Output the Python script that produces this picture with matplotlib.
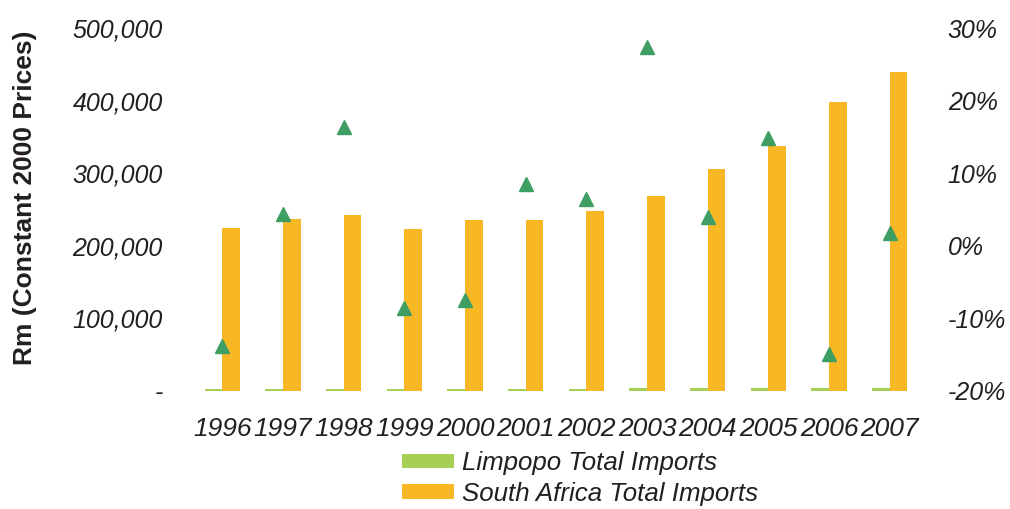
import matplotlib
matplotlib.use("Agg")
import matplotlib.pyplot as plt
from matplotlib.patches import Patch
from matplotlib.ticker import FuncFormatter, FixedLocator
import numpy as np

# Annual imports, Rm at constant 2000 prices
years = ["1996", "1997", "1998", "1999", "2000", "2001",
         "2002", "2003", "2004", "2005", "2006", "2007"]
limpopo_imports = [2700, 2800, 3250, 2960, 2730, 2960,
                   3150, 4020, 4170, 4790, 4080, 4150]
sa_imports = [224000, 237000, 243000, 223000, 235000, 235500,
              248000, 268500, 306000, 337500, 397500, 440000]
# Year-on-year growth of Limpopo imports (%)
limpopo_growth = [-13.8, 4.4, 16.4, -8.5, -7.5, 8.5,
                  6.4, 27.4, 4.0, 14.8, -14.9, 1.8]

left_ticks = [0, 100000, 200000, 300000, 400000, 500000]
right_ticks = [-20, -10, 0, 10, 20, 30]

TEXT = "#231f20"
ORANGE = "#f8b826"
LIME = "#a6cf55"
TRI = "#3f9e63"

plt.rcParams["font.family"] = ["Liberation Sans", "DejaVu Sans"]

fig = plt.figure(figsize=(10.10, 5.09), dpi=100)
ax = fig.add_axes([192 / 1010, 1 - 391 / 509, (920 - 192) / 1010, (391 - 28) / 509])
ax2 = ax.twinx()

x = np.arange(len(years))
w = 0.29
ax.bar(x - w / 2, limpopo_imports, width=w, color=LIME, zorder=2)
ax.bar(x + w / 2, sa_imports, width=w, color=ORANGE, zorder=2)
ax2.plot(x, limpopo_growth, linestyle="none", marker="^", markersize=10,
         color=TRI, zorder=3)

ax.set_xlim(-0.5, len(years) - 0.5)
ax.set_ylim(0, 500000)
ax2.set_ylim(-20, 30)

ax.yaxis.set_major_locator(FixedLocator(left_ticks))
ax.yaxis.set_major_formatter(FuncFormatter(lambda v, p: "-" if v == 0 else f"{v:,.0f}"))
ax2.yaxis.set_major_locator(FixedLocator(right_ticks))
ax2.yaxis.set_major_formatter(FuncFormatter(lambda v, p: f"{v:.0f}%"))

ax.set_xticks(x)
ax.set_xticklabels(years)

for a in (ax, ax2):
    for s in a.spines.values():
        s.set_visible(False)
    a.tick_params(length=0, colors=TEXT)

ax.tick_params(axis="y", pad=21, labelsize=18)
ax2.tick_params(axis="y", pad=20, labelsize=18)
ax.tick_params(axis="x", pad=19, labelsize=19)
for lbl in ax.get_xticklabels() + ax.get_yticklabels() + ax2.get_yticklabels():
    lbl.set_fontstyle("italic")
    lbl.set_color(TEXT)

ax.set_ylabel("Rm (Constant 2000 Prices)", fontsize=19, fontweight="bold",
              color=TEXT, labelpad=0)
ax.yaxis.set_label_coords(-(192 - 37) / 728, (391 - 198) / 363)

handles = [Patch(facecolor=LIME, edgecolor="none", label="Limpopo Total Imports"),
           Patch(facecolor=ORANGE, edgecolor="none", label="South Africa Total Imports")]
leg = fig.legend(handles=handles, loc="center left",
                 bbox_to_anchor=(402 / 1010, 1 - 478.5 / 509),
                 frameon=False, borderpad=0, borderaxespad=0,
                 handlelength=2.0, handleheight=0.5, handletextpad=0.34,
                 labelspacing=0.25,
                 prop={"size": 18.6, "style": "italic"})
for t in leg.get_texts():
    t.set_color(TEXT)

fig.savefig("out.png", dpi=100)
